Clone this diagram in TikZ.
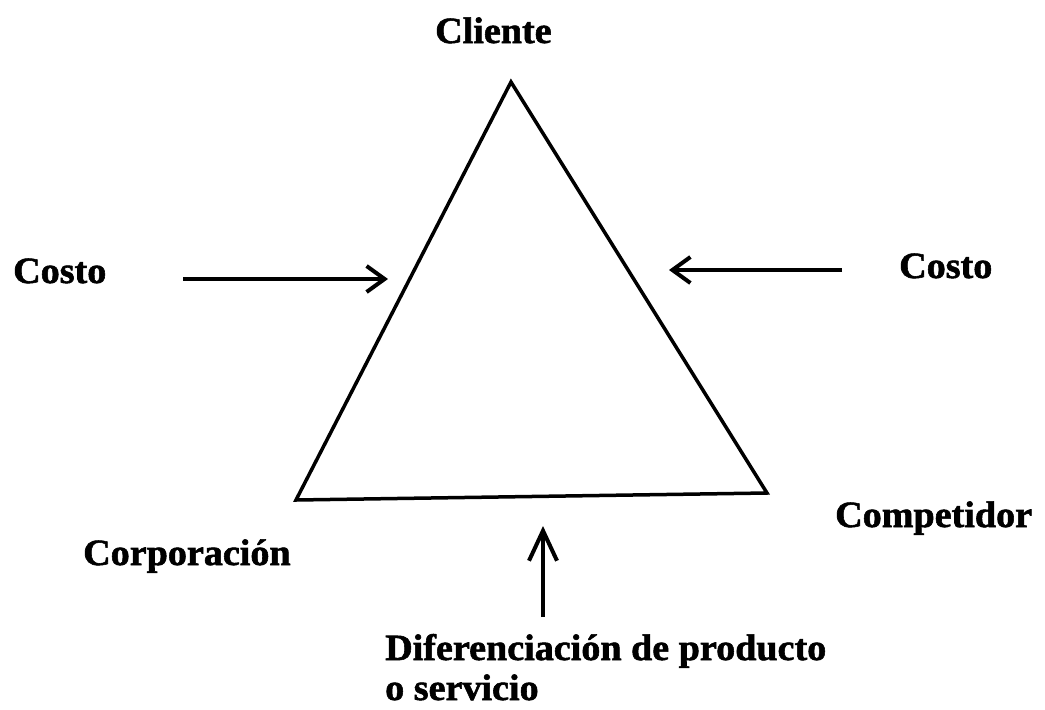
\documentclass[tikz,border=0pt]{standalone}
\usepackage{fontspec}
\setmainfont{Liberation Serif}[BoldFeatures={FakeBold=1.5}]
\usetikzlibrary{arrows.meta}
\newcommand{\wtext}[1]{\scalebox{1.03}[1]{#1}}
\tikzset{
  lbl/.style={inner sep=0pt, anchor=base west, font=\bfseries\fontsize{37}{40}\selectfont},
  side/.style={line width=3.5pt, line join=miter},
  push/.style={line width=4pt, -{Straight Barb[length=18pt,width=26pt,line width=4pt]}},
  pushup/.style={line width=4pt, -{Straight Barb[length=30pt,width=28pt,line width=4pt]}}
}
\begin{document}
\begin{tikzpicture}[x=1pt,y=-1pt]
\useasboundingbox (0,0) rectangle (1045,710);
\coordinate (top) at (511,82);
\coordinate (bl) at (296,500);
\coordinate (br) at (767,493);
\draw[side] (top) -- (br) -- (bl) -- cycle;

\node[lbl] (cliente) at (435,43) {\wtext{Cliente}};
\node[lbl] (costoL) at (13,283) {\wtext{Costo}};
\node[lbl] (costoR) at (899,278) {\wtext{Costo}};
\node[lbl] (corp) at (83,565) {\wtext{Corporación}};
\node[lbl] (comp) at (835,527) {\wtext{Competidor}};
\node[lbl] (dif) at (385,660) {\wtext{Diferenciación de producto}};
\node[lbl] (serv) at (385,700) {\wtext{o servicio}};

\coordinate (l0) at (183,279);
\coordinate (l1) at (388,279);
\coordinate (r0) at (842,270);
\coordinate (r1) at (669,270);
\coordinate (b0) at (543,617);
\coordinate (b1) at (543,526);
\draw[push] (l0) -- (l1);
\draw[push] (r0) -- (r1);
\draw[pushup] (b0) -- (b1);
\end{tikzpicture}
\end{document}
